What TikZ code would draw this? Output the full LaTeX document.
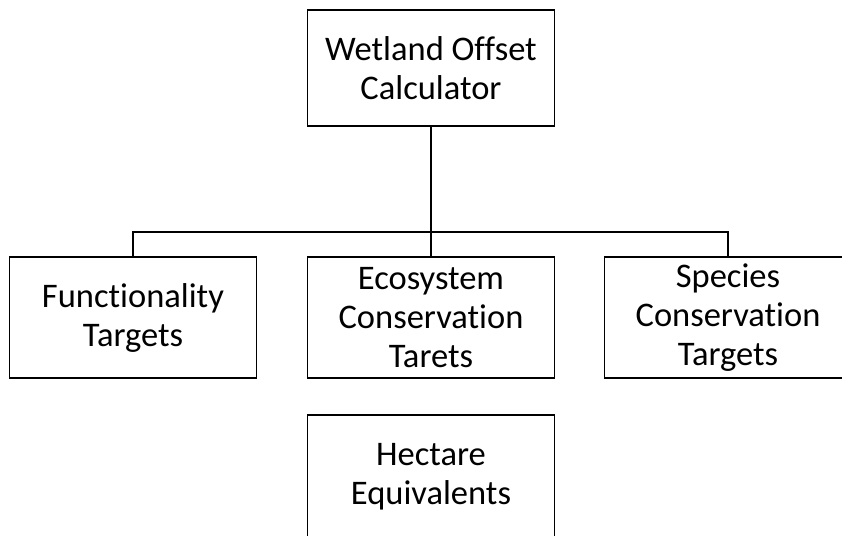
\documentclass[tikz,border=0pt]{standalone}
\usepackage{fontspec}
\setmainfont{Carlito}[Ligatures=NoCommon]
\begin{document}
\begin{tikzpicture}[x=1pt,y=-1pt,
  box/.style={draw=black, line width=1.6pt, fill=white, align=center, inner sep=0pt,
    minimum width=247pt, font=\fontsize{34.5}{39}\selectfont},
  conn/.style={draw=black, line width=1.3pt}]
\clip (0,0) rectangle (842,535);
\fill[white] (0,0) rectangle (842,535);
\node[box, minimum height=116pt] (top) at (431,68) {Wetland Offset\\Calculator};
\node[box, minimum height=121pt] (left) at (133,317.5) {Functionality\\Targets};
\node[box, minimum height=121pt] (mid) at (431,317.5) {Ecosystem\\Conservation\\Tarets};
\node[box, minimum height=121pt] (right) at (728,317.5) {Species\\Conservation\\Targets};
\node[box, minimum height=124pt] (hect) at (431,477) {Hectare\\Equivalents};
\coordinate (bus) at (431,232);
\draw[conn] (top.south) -- (mid.north);
\draw[conn] (left.north) -- (left.north |- bus) -- (right.north |- bus) -- (right.north);
\end{tikzpicture}
\end{document}
